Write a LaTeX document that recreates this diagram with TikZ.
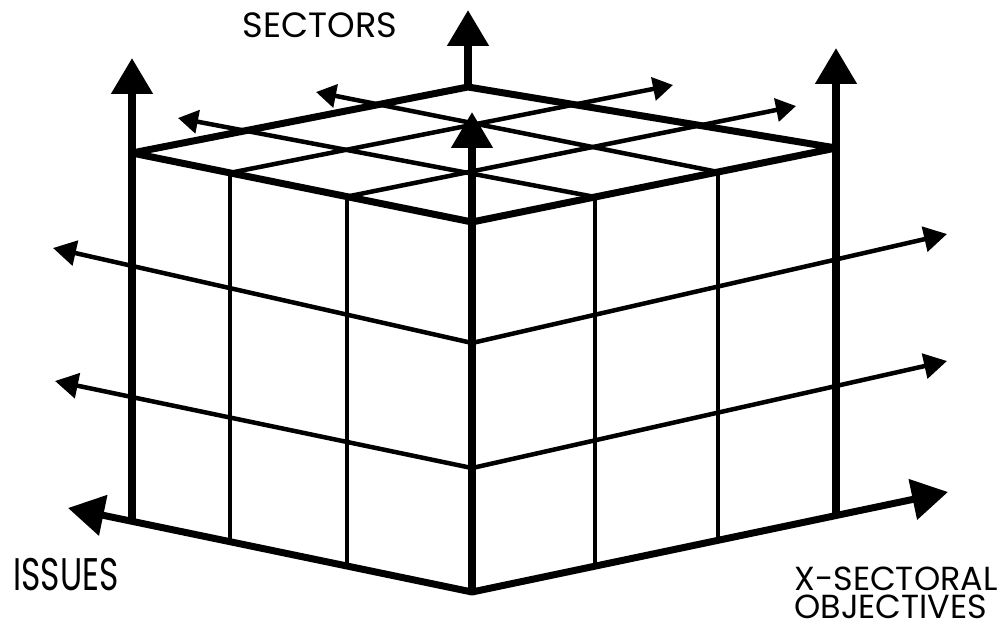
\documentclass[tikz,border=0pt]{standalone}
\usepackage{fontspec}
\setmainfont{Poppins}
\usetikzlibrary{arrows.meta,calc}

\begin{document}
\begin{tikzpicture}[
    x=0.02cm, y=-0.02cm,
    Big/.tip={Triangle[length=0.72cm,width=0.8cm]},
    Small/.tip={Triangle[length=0.46cm,width=0.5cm]},
    Tiny/.tip={Triangle[length=0.40cm,width=0.46cm]},
    rim/.style={line width=0.14cm, line join=round},
    gridline/.style={line width=0.09cm},
    axis/.style={line width=0.16cm, -{Big}},
    axtext/.style={inner sep=0pt, font=\fontsize{20}{24}\selectfont}
]
\useasboundingbox (0,0) rectangle (1006,628);

% cube corners
\coordinate (Lt) at (132,153);
\coordinate (Lb) at (132,521);
\coordinate (Ft) at (472,222);
\coordinate (Fb) at (472,592);
\coordinate (Rt) at (836,148);
\coordinate (Rb) at (836,515);
\coordinate (Bt) at (468,87);

% arrow ends
\coordinate (tipL) at (132,58);
\coordinate (tipF) at (472,112);
\coordinate (tipR) at (836,48);
\coordinate (tipB) at (468,10);
\coordinate (tipLB) at (68,508);
\coordinate (tipRB) at (948,492);
\coordinate (tipL1) at (53,248);
\coordinate (tipL2) at (55,381);
\coordinate (tipR1) at (947,234);
\coordinate (tipR2) at (947,361);
\coordinate (tipA1) at (673,85);
\coordinate (tipA2) at (796,106);
\coordinate (tipB1) at (178,118);
\coordinate (tipB2) at (316,92);

% front edge divisions
\coordinate (F1) at ($(Ft)!0.327!(Fb)$);
\coordinate (F2) at ($(Ft)!0.665!(Fb)$);

% grid on the faces
\foreach \f in {0.288,0.632}
    \draw[gridline] ($(Lt)!\f!(Ft)$) -- ($(Lb)!\f!(Fb)$);
\foreach \f in {0.338,0.676}
    \draw[gridline] ($(Ft)!\f!(Rt)$) -- ($(Fb)!\f!(Rb)$);
\draw[gridline, {Small}-{Small}] (tipL1) -- (F1) -- (tipR1);
\draw[gridline, {Small}-{Small}] (tipL2) -- (F2) -- (tipR2);

% grid on the top
\foreach \f/\t in {0.288/tipA1, 0.632/tipA2}
    \draw[gridline, -{Tiny}] ($(Lt)!\f!(Ft)$) -- (\t);
\foreach \f/\t in {0.338/tipB1, 0.676/tipB2}
    \draw[gridline, -{Tiny}] ($(Ft)!\f!(Rt)$) -- (\t);

% outline and axes
\draw[rim] (Lt) -- (Ft) -- (Rt) -- (Bt) -- cycle;
\draw[rim, {Big}-{Big}] (tipLB) -- (Fb) -- (tipRB);
\draw[axis] (Lb) -- (tipL);
\draw[axis] (Fb) -- (tipF);
\draw[axis] (Rb) -- (tipR);
\draw[axis] (Bt) -- (tipB);

\node[axtext, anchor=base] (sectors) at (320,38) {SECTORS};
\node[axtext, anchor=base west] (issues) at (13,590)
    {\fontsize{26}{30}\selectfont\scalebox{0.72}[1]{ISSUES}};
\node[axtext, align=left, anchor=south west, font=\fontsize{19}{15.9}\selectfont]
    (xsect) at (794,619) {X-SECTORAL\\OBJECTIVES};
\end{tikzpicture}
\end{document}
